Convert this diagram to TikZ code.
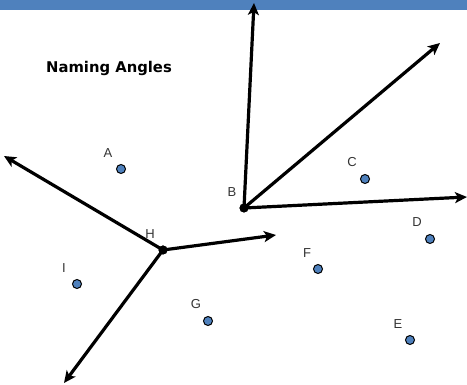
\documentclass[tikz,border=0pt]{standalone}
\usepackage{fontspec}
\setmainfont{Liberation Sans}
\newfontfamily\titlefont{DejaVu Sans}
\usetikzlibrary{arrows.meta}
\definecolor{barblue}{HTML}{4F81BD}
\begin{document}
\begin{tikzpicture}[x=1pt,y=-1pt,
  ray/.style={line width=3.2pt,-{Stealth[length=12pt,width=11pt,inset=3pt]}},
  pt/.style={circle,draw=black,fill=barblue,line width=1pt,minimum size=9pt,inner sep=0pt},
  vtx/.style={circle,fill=black,minimum size=9pt,inner sep=0pt},
  lbl/.style={font=\fontsize{13}{15}\selectfont,text=black!80}]
\useasboundingbox (0,0) rectangle (467,385);
\fill[barblue] (0,0) rectangle (467,10);
\node[font=\titlefont\bfseries\fontsize{14.8}{17}\selectfont] (title) at (109,68) {Naming Angles};
\coordinate (b1) at (254,3);
\coordinate (b2) at (440,43);
\coordinate (b3) at (467,197);
\coordinate (h1) at (4,156);
\coordinate (h2) at (64,383);
\coordinate (h3) at (276,235);
\node[vtx] (B) at (244,208) {};
\node[vtx] (H) at (163,250) {};
\draw[ray] (B.center) -- (b1);
\draw[ray] (B.center) -- (b2);
\draw[ray] (B.center) -- (b3);
\draw[ray] (H.center) -- (h1);
\draw[ray] (H.center) -- (h2);
\draw[ray] (H.center) -- (h3);
\node[vtx] at (B) {};
\node[vtx] at (H) {};
\node[lbl] (lB) at (232,192) {B};
\node[lbl] (lH) at (150,234) {H};
\node[pt] (A) at (121,169) {};
\node[lbl] (lA) at (108,153) {A};
\node[pt] (C) at (365,179) {};
\node[lbl] (lC) at (352,162) {C};
\node[pt] (D) at (430,239) {};
\node[lbl] (lD) at (417,222) {D};
\node[pt] (E) at (410,340) {};
\node[lbl] (lE) at (398,324) {E};
\node[pt] (F) at (318,269) {};
\node[lbl] (lF) at (307,253) {F};
\node[pt] (G) at (208,321) {};
\node[lbl] (lG) at (196,304) {G};
\node[pt] (I) at (77,284) {};
\node[lbl] (lI) at (64,268) {I};
\end{tikzpicture}
\end{document}
